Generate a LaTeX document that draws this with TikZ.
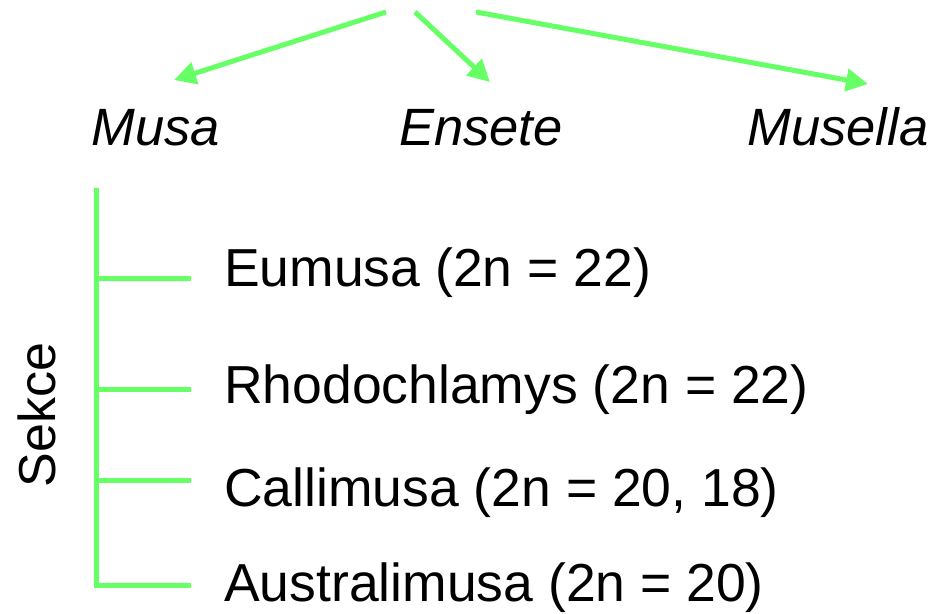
\documentclass[tikz,border=0pt]{standalone}
\usepackage{fontspec}
\setmainfont{Liberation Sans}
\usetikzlibrary{arrows.meta}
\definecolor{lgreen}{HTML}{66FF66}
\begin{document}
\begin{tikzpicture}[x=1pt,y=-1pt,
  conn/.style={draw=lgreen,line width=5pt},
  arr/.style={conn,-{Triangle[length=22pt,width=22pt]}},
  genus/.style={font=\fontsize{52.5}{52.5}\selectfont\itshape,inner sep=0pt,anchor=base},
  sect/.style={font=\fontsize{53.5}{53.5}\selectfont,inner sep=0pt,anchor=base west}]
\useasboundingbox (0,0) rectangle (941,613);
% top arrows
\coordinate (s1) at (386,12);
\coordinate (s2) at (415,12);
\coordinate (s3) at (476,12);
\coordinate (t1) at (174,80);
\coordinate (t2) at (490,82);
\coordinate (t3) at (868,84);
\draw[arr] (s1) -- (t1);
\draw[arr] (s2) -- (t2);
\draw[arr] (s3) -- (t3);
% genera
\node[genus] (musa) at (156,145) {Musa};
\node[genus] (ensete) at (481,145) {Ensete};
\node[genus] (musella) at (838,145) {Musella};
% sections tree
\coordinate (top) at (96,188);
\coordinate (j1) at (96,278);
\coordinate (j2) at (96,389);
\coordinate (j3) at (96,480);
\coordinate (j4) at (96,585);
\coordinate (e1) at (191,278);
\coordinate (e2) at (191,389);
\coordinate (e3) at (191,480);
\coordinate (e4) at (191,585);
\draw[conn] (top) -- (j4) -- (e4);
\draw[conn] (j1) -- (e1);
\draw[conn] (j2) -- (e2);
\draw[conn] (j3) -- (e3);
\node[sect] (eu) at (224,286) {Eumusa (2n = 22)};
\node[sect] (rh) at (224,403) {Rhodochlamys (2n = 22)};
\node[sect] (ca) at (224,506) {Callimusa (2n = 20, 18)};
\node[sect] (au) at (224,601) {Australimusa (2n = 20)};
\node[font=\fontsize{52}{52}\selectfont,inner sep=0pt,anchor=base,rotate=90] (sekce) at (55,415) {Sekce};
\end{tikzpicture}
\end{document}
